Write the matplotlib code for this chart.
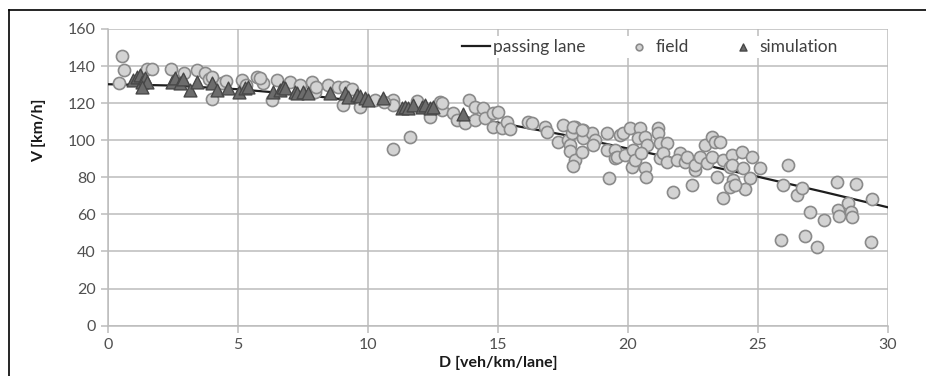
import matplotlib
matplotlib.use("Agg")
import matplotlib.pyplot as plt
from matplotlib.lines import Line2D

plt.rcParams['font.family'] = ['Lato', 'DejaVu Sans']

# passing lane speed-density curve
lane_d = [0, 2.5, 5, 7.5, 10, 12.5, 15, 17.5, 20, 22.5, 25, 27.5, 30]
lane_v = [130.2, 129.5, 127.5, 124.5, 120.5, 115.5, 109.5, 103, 95.5, 88, 80.3, 72.2, 63.8]

# field observations
field_d = [0.53, 0.63, 0.42, 1.49, 1.68, 2.42, 2.92, 3.41, 3.73, 3.99, 4.37, 4.54, 3.9,
           5.14, 5.72, 5.97, 5.85, 6.3, 6.49, 7.0, 7.38, 7.83, 7.96, 8.47, 8.86, 9.12,
           9.05, 9.69, 10.27, 10.97, 10.97, 11.6, 10.95, 12.38, 12.77, 12.83, 12.83,
           13.28, 13.41, 13.73, 13.9, 14.12, 14.12, 14.43, 14.5, 14.82, 15.01, 14.82,
           15.14, 15.33, 15.46, 16.17, 16.3, 16.81, 16.87, 17.32, 17.51, 17.7, 17.77,
           17.83, 17.96, 17.77, 17.96, 17.9, 18.22, 18.28, 18.28, 18.6, 18.73, 18.67,
           19.18, 19.18, 19.5, 19.5, 19.28, 19.69, 17.9, 18.22, 19.57, 19.82, 19.88,
           20.08, 20.14, 20.2, 20.27, 20.46, 20.4, 20.65, 20.72, 20.65, 20.69, 20.5,
           21.17, 21.17, 21.23, 21.49, 21.23, 21.36, 21.49, 21.74, 22.0, 21.87, 22.19,
           22.26, 22.45, 22.58, 22.58, 22.77, 22.96, 23.03, 23.22, 23.35, 23.22, 23.41,
           23.67, 23.67, 23.92, 23.99, 24.05, 23.92, 23.54, 24.37, 24.76, 24.0, 24.43,
           24.69, 24.5, 24.12, 25.08, 26.17, 25.97, 26.49, 26.68, 27.0, 27.54, 28.03,
           28.09, 28.13, 28.47, 28.57, 28.6, 28.77, 29.37, 29.33, 25.88, 26.8, 27.28,
           4.0, 5.3, 8.0, 9.4, 10.6, 11.9]
field_v = [145.6, 138, 131, 138.2, 138.2, 138.2, 136, 138, 136, 122.2, 131, 132, 133,
           132.5, 134, 131, 133.5, 121.7, 132.5, 131.5, 129.8, 131.5, 126, 129.8, 128.9, 128.9,
           119, 118, 121.7, 121.7, 119, 101.9, 95, 112.7, 120.8, 116.2, 119.9,
           114.5, 110.9, 109.1, 121.7, 118.1, 110.9, 117.2, 111.8, 114.5, 115.4, 107.3,
           106.4, 110, 105.9, 110, 109.1, 107.3, 104.6, 99.2, 108.2, 100, 97.4,
           103.7, 107.3, 94.3, 89.3, 86.2, 93.8, 105.5, 101, 103.7, 100, 97.4,
           103.7, 94.7, 94.7, 90.2, 79.4, 102.7, 107.3, 105.4, 91.1, 103.7, 92,
           106.4, 85.7, 94.7, 89.3, 106.4, 101, 101.9, 97.4, 84.8, 80, 93,
           106.4, 103.7, 98.3, 98.3, 90.2, 92.9, 88.4, 72.2, 92.9, 89.3, 88.4,
           91.1, 75.8, 83.8, 86.5, 91.1, 97.4, 87.5, 101.9, 99.2, 91.1, 80.3,
           89.3, 69, 85.6, 92, 78.5, 74.9, 99.2, 93.8, 91.1, 86.6, 84.8,
           79.4, 73.5, 75.8, 84.8, 86.6, 75.8, 70.4, 74, 61.4, 57, 77.6,
           62.3, 59.1, 66, 61.4, 58.4, 76.4, 68.1, 45.3, 46.2, 48.5, 42.2,
           134, 130, 128.5, 127.5, 120.5, 121]

# simulation results
sim_d = [0.97, 1.1, 1.23, 1.32, 1.42, 1.49, 1.3, 2.45, 2.58, 2.77, 2.9, 3.15, 3.41,
         3.99, 4.18, 4.63, 5.05, 5.27, 5.4, 6.36, 6.62, 6.72, 6.81, 7.19, 7.26, 7.51,
         7.7, 8.54, 9.12, 9.24, 9.56, 9.69, 9.88, 10.01, 10.59, 11.3, 11.42, 11.55,
         11.74, 12.07, 12.19, 12.38, 12.51, 13.67]
sim_v = [132.5, 134.2, 135, 131.5, 133.3, 131.5, 128.9, 131.5, 133.4, 130.7, 132.8, 127.1, 131.5,
         130.7, 127.1, 128.3, 126.2, 128, 128.9, 126.2, 127.1, 128.9, 128, 126.2, 125.3, 126.2,
         125.3, 125.3, 125.3, 123.5, 124.4, 123.8, 122.6, 121.7, 122.6, 117.2, 118.1, 117.2,
         119, 118.1, 119, 117.2, 118.1, 114.1]

x_ticks = [0, 5, 10, 15, 20, 25, 30]
y_ticks = [0, 20, 40, 60, 80, 100, 120, 140, 160]

fig = plt.figure(figsize=(9.26, 3.76), dpi=100)
ax = fig.add_axes([108 / 926, 1 - 325.6 / 376, 780 / 926, 296.6 / 376])

ax.plot(lane_d, lane_v, color='#1e1e1e', lw=1.6, zorder=3, label='passing lane')
ax.scatter(field_d, field_v, s=76, marker='o', facecolor='#d3d3d3', edgecolor='#8a8a8a',
           lw=1.2, zorder=4, label='field')
ax.scatter(sim_d, sim_v, s=85, marker='^', facecolor='#6c6c6c', edgecolor='#474747',
           lw=1.0, zorder=5, label='simulation')

ax.set_xlim(0, 30)
ax.set_ylim(0, 160)
ax.set_xticks(x_ticks)
ax.set_yticks(y_ticks)
ax.grid(True, color='#bcbcbc', lw=1.1, zorder=0)
ax.set_axisbelow(True)
for side in ['top', 'right']:
    ax.spines[side].set_visible(False)
for side in ['left', 'bottom']:
    ax.spines[side].set_color('#bcbcbc')
    ax.spines[side].set_linewidth(1.1)
ax.tick_params(axis='both', colors='#bcbcbc', length=5, width=1.1, labelsize=11.5,
               labelcolor='#505050', pad=4)

ax.set_xlabel('D [veh/km/lane]', fontsize=11.5, fontweight='bold', color='#1a1a1a', labelpad=3)
ax.set_ylabel('V [km/h]', fontsize=11.5, fontweight='bold', color='#1a1a1a')
ax.yaxis.set_label_coords(-0.08, 0.66)

leg = ax.legend(loc='center', bbox_to_anchor=(650 / 926, 1 - 47 / 376),
                bbox_transform=fig.transFigure, ncol=3, frameon=True,
                facecolor='white', edgecolor='none', framealpha=1, fancybox=False,
                fontsize=12.5, markerscale=0.55, handlelength=1.6, handletextpad=0.15,
                columnspacing=2.3, borderpad=0.2)
for t in leg.get_texts():
    t.set_color('#404040')

# outer frame (only top and left edges fall inside the image)
fig.add_artist(Line2D([9 / 926, 9 / 926], [0, 1 - 10 / 376], color='black', lw=1.2,
                      transform=fig.transFigure))
fig.add_artist(Line2D([9 / 926, 1], [1 - 10 / 376, 1 - 10 / 376], color='black', lw=1.2,
                      transform=fig.transFigure))

fig.savefig('out.png', dpi=100)
